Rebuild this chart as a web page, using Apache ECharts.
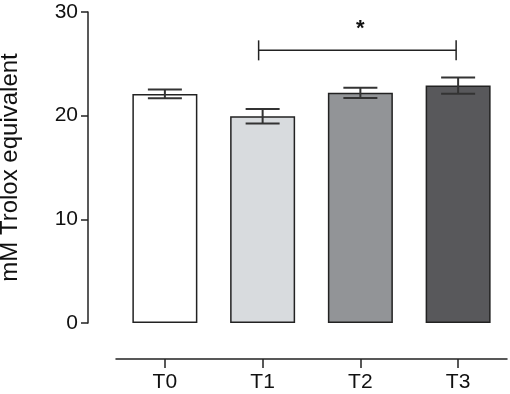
<!DOCTYPE html>
<html>
<head>
<meta charset="utf-8">
<style>html,body{margin:0;padding:0;background:#fff}#c{width:510px;height:394px}</style>
<script src="https://cdn.jsdelivr.net/npm/echarts@6/dist/echarts.min.js"></script>
</head>
<body>
<div id="c"></div>
<script>
const categories = ['T0', 'T1', 'T2', 'T3'];
const means = [22.1, 19.95, 22.2, 22.9];
const errors = [0.42, 0.7, 0.5, 0.78];
const barColors = ['#ffffff', '#d8dbde', '#929497', '#58585b'];
const yTicks = [0, 10, 20, 30];
const sigFrom = 'T1';
const sigTo = 'T3';
const sigLevel = 26.3;
const sigLabel = '*';
const sigLabelLevel = 28.4;
const yName = 'mM Trolox equivalent';

const chart = echarts.init(document.getElementById('c'), null, {renderer: 'canvas'});
const font = '"Liberation Sans", Arial, sans-serif';

chart.setOption({
  animation: false,
  backgroundColor: '#fff',
  grid: {left: 116, right: 3, top: 12, bottom: 71, containLabel: false, outerBoundsMode: 'none'},
  xAxis: {
    type: 'category',
    data: categories,
    offset: 36,
    axisLine: {onZero: false, lineStyle: {color: '#222', width: 1.5}},
    axisTick: {show: true, alignWithLabel: true, length: 9, lineStyle: {color: '#222', width: 1.5}},
    axisLabel: {color: '#111', fontFamily: font, fontSize: 21, margin: 13}
  },
  yAxis: {
    type: 'value',
    min: yTicks[0], max: yTicks[yTicks.length - 1], interval: 10,
    offset: 28,
    name: yName,
    nameLocation: 'middle',
    nameGap: 66,
    nameRotate: 90,
    nameTextStyle: {color: '#111', fontFamily: font, fontSize: 24},
    axisLine: {show: true, onZero: false, lineStyle: {color: '#222', width: 1.5}},
    axisTick: {show: true, length: 7, lineStyle: {color: '#222', width: 1.5}},
    axisLabel: {color: '#111', fontFamily: font, fontSize: 21, margin: 10},
    splitLine: {show: false}
  },
  series: [
    {
      type: 'bar',
      barWidth: '66.5%',
      data: means.map((v, i) => ({value: v, itemStyle: {color: barColors[i]}})),
      itemStyle: {borderColor: '#222', borderWidth: 1.5},
      z: 2
    },
    {
      type: 'custom',
      z: 3,
      data: means.map((v, i) => [i, v - errors[i], v + errors[i]]),
      renderItem: function (params, api) {
        const x = api.value(0);
        const lo = api.coord([x, api.value(1)]);
        const hi = api.coord([x, api.value(2)]);
        const hw = 17;
        const st = {stroke: '#333', lineWidth: 2};
        return {
          type: 'group',
          children: [
            {type: 'line', shape: {x1: lo[0], y1: lo[1], x2: hi[0], y2: hi[1]}, style: st},
            {type: 'line', shape: {x1: lo[0] - hw, y1: lo[1], x2: lo[0] + hw, y2: lo[1]}, style: st},
            {type: 'line', shape: {x1: hi[0] - hw, y1: hi[1], x2: hi[0] + hw, y2: hi[1]}, style: st}
          ]
        };
      }
    },
    {
      type: 'custom',
      z: 4,
      data: [[categories.indexOf(sigFrom), categories.indexOf(sigTo), sigLevel, sigLabelLevel]],
      renderItem: function (params, api) {
        const a = api.coord([api.value(0), api.value(2)]);
        const b = api.coord([api.value(1), api.value(2)]);
        const s = api.coord([(api.value(0) + api.value(1)) / 2, api.value(3)]);
        const st = {stroke: '#222', lineWidth: 1.5};
        return {
          type: 'group',
          children: [
            {type: 'line', shape: {x1: a[0] - 4, y1: a[1], x2: b[0] - 2, y2: b[1]}, style: st},
            {type: 'line', shape: {x1: a[0] - 4, y1: a[1] - 10, x2: a[0] - 4, y2: a[1] + 10}, style: st},
            {type: 'line', shape: {x1: b[0] - 2, y1: b[1] - 10, x2: b[0] - 2, y2: b[1] + 10}, style: st},
            {type: 'text', style: {x: s[0], y: s[1], text: sigLabel, fill: '#111', font: 'bold 22px ' + font, align: 'center', verticalAlign: 'middle'}}
          ]
        };
      }
    }
  ]
});
</script>
</body>
</html>
